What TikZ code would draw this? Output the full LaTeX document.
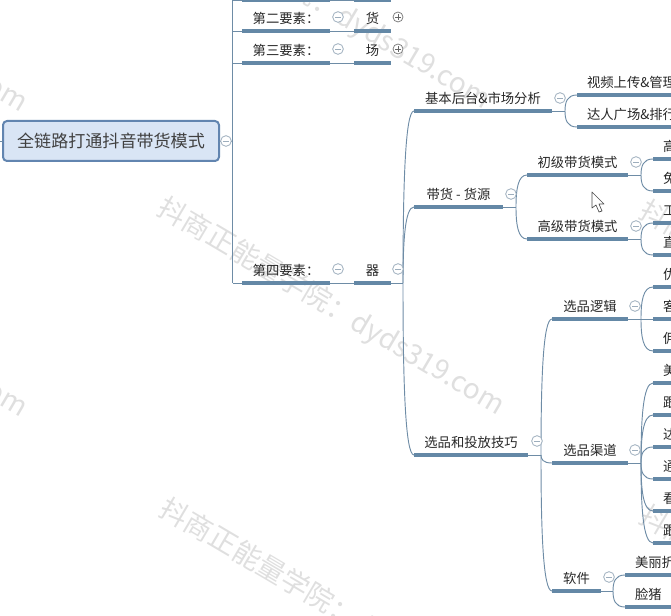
\documentclass[tikz,border=0pt]{standalone}
\usepackage{fontspec}
\setmainfont{Noto Sans CJK SC}
\usetikzlibrary{positioning,calc}
\definecolor{linecol}{HTML}{6E8CA6}
\definecolor{barcol}{HTML}{6488A6}
\definecolor{foldcol}{HTML}{9DAEBD}
\definecolor{maincol}{HTML}{D9E5F5}
\definecolor{mainedge}{HTML}{6285B0}
\definecolor{markcol}{HTML}{DFDFDF}
\tikzset{
  topic/.style={anchor=south west,minimum height=19pt,inner sep=0pt,font=\fontsize{10pt}{11pt}\selectfont,text=black!85},
  leaf/.style={topic,align=left,text width=#1,inner xsep=7.5pt},
  bar/.style={draw=barcol,line width=2.3pt},
  thin/.style={draw=linecol,line width=0.7pt},
  fold/.style={circle,draw=foldcol,line width=0.6pt,minimum size=8pt,inner sep=0pt,fill=white,
    path picture={\draw[foldcol,line width=0.6pt] ([xshift=-2.2pt]path picture bounding box.center) -- ([xshift=2.2pt]path picture bounding box.center);}},
  unfold/.style={circle,draw=black!50,line width=0.6pt,minimum size=7.5pt,inner sep=0pt,fill=white,
    path picture={\draw[black!60,line width=0.6pt] ([xshift=-1.9pt]path picture bounding box.center) -- ([xshift=1.9pt]path picture bounding box.center)
      ([yshift=-1.9pt]path picture bounding box.center) -- ([yshift=1.9pt]path picture bounding box.center);}},
  wmark/.style={font=\fontsize{21pt}{24pt}\selectfont,text=markcol,rotate=-30.6,inner sep=0pt}
}
% curved branch out of a fork
\newcommand{\branch}[2]{\draw[thin] (#1) .. controls ($(#1)!0.55!(#1 |- #2)$) and ($(#1 |- #2)+(1.5pt,0)$) .. (#2);}
\newcommand{\under}[1]{\draw[bar] (#1.south west) -- (#1.south east);}
\begin{document}
\begin{tikzpicture}[x=0.75pt,y=-0.75pt,outer sep=0pt,inner sep=0pt]
  \useasboundingbox (0,0) rectangle (671,616);
  \clip (0,0) rectangle (671,616);
  % watermarks
  \node[wmark] (wm1) at (331,307) {抖商正能量学院：dyds319.com};
  \node[wmark] (wm2) at (317,1) {抖商正能量学院：dyds319.com};
  \node[wmark] (wm3) at (333,608) {抖商正能量学院：dyds319.com};
  \node[wmark] (wm4) at (-146,309) {抖商正能量学院：dyds319.com};
  \node[wmark] (wm5) at (-146,4) {抖商正能量学院：dyds319.com};
  \node[wmark] (wm6) at (813,310) {抖商正能量学院：dyds319.com};
  \node[wmark] (wm7) at (813,615) {抖商正能量学院：dyds319.com};
  % root
  \node[draw=mainedge,fill=maincol,line width=1.5pt,rounded corners=3pt,minimum width=162pt,minimum height=30pt,
    font=\fontsize{12.8pt}{15pt}\selectfont,text=black!75] (root) at (111,141) {全链路打通抖音带货模式};
  \coordinate (rootin) at (0,141);
  \draw[thin] (rootin) -- (root.west);
  \coordinate (trunktop) at (232.5,-2);
  \coordinate (trunkbot) at (232.5,283);
  \draw[thin] (root.east) -- (232.5,141);
  \draw[thin] (trunktop) -- (trunkbot);
  % first column
  \path
  (242,0) node[topic,minimum width=88*0.75pt] (e1) {}
  (354,0) node[topic,minimum width=37*0.75pt] (e1v) {}
  (242,31) node[topic,minimum width=88*0.75pt] (e2) {第二要素：}
  (354,31) node[topic,minimum width=37*0.75pt] (e2v) {货}
  (242,63) node[topic,minimum width=88*0.75pt] (e3) {第三要素：}
  (354,63) node[topic,minimum width=37*0.75pt] (e3v) {场}
  (242,283) node[topic,minimum width=88*0.75pt] (e4) {第四要素：}
  (354,283) node[topic,minimum width=37*0.75pt] (e4v) {器};
  \under{e1} \under{e1v} \under{e2} \under{e2v} \under{e3} \under{e3v} \under{e4} \under{e4v}
  \draw[thin] (232.5,0) -- (e1.south west);
  \draw[thin] (232.5,31) -- (e2.south west);
  \draw[thin] (232.5,63) -- (e3.south west);
  \draw[thin] (trunkbot) -- (e4.south west);
  \draw[thin] (e1.south east) -- (e1v.south west);
  \draw[thin] (e2.south east) -- (e2v.south west);
  \draw[thin] (e3.south east) -- (e3v.south west);
  \draw[thin] (e4.south east) -- (e4v.south west);
  % second column
  \path
  (414,111) node[topic,minimum width=138*0.75pt] (base) {基本后台\&市场分析}
  (414,207) node[topic,minimum width=89*0.75pt] (source) {带货 - 货源}
  (414,455) node[topic,minimum width=114*0.75pt] (pick) {选品和投放技巧}
  (527,175) node[topic,minimum width=101*0.75pt] (low) {初级带货模式}
  (527,239) node[topic,minimum width=101*0.75pt] (high) {高级带货模式}
  (552,319) node[topic,minimum width=76*0.75pt] (logic) {选品逻辑}
  (552,463) node[topic,minimum width=76*0.75pt] (chan) {选品渠道}
  (552,591) node[topic,minimum width=49*0.75pt] (soft) {软件};
  \under{base} \under{source} \under{pick} \under{low} \under{high} \under{logic} \under{chan} \under{soft}
  % leaves, cut off at the right edge
  \path
  (577,95) node[leaf=75pt] (l1) {视频上传\&管理}
  (577,127) node[leaf=75pt] (l2) {达人广场\&排行}
  (653,159) node[leaf=15pt] (l3) {高}
  (653,191) node[leaf=15pt] (l4) {免}
  (653,223) node[leaf=15pt] (l5) {工}
  (653,255) node[leaf=15pt] (l6) {直}
  (653,287) node[leaf=15pt] (l7) {优}
  (653,319) node[leaf=15pt] (l8) {客}
  (653,351) node[leaf=15pt] (l9) {佣}
  (653,383) node[leaf=15pt] (l10) {美}
  (653,415) node[leaf=15pt] (l11) {跟}
  (653,447) node[leaf=15pt] (l12) {达}
  (653,479) node[leaf=15pt] (l13) {通}
  (653,511) node[leaf=15pt] (l14) {看}
  (653,543) node[leaf=15pt] (l15) {跟}
  (625,575) node[leaf=31pt] (l16) {美丽折}
  (625,607) node[leaf=31pt] (l17) {脸猪};
  \under{l1} \under{l2} \under{l3} \under{l4} \under{l5} \under{l6} \under{l7} \under{l8} \under{l9}
  \under{l10} \under{l11} \under{l12} \under{l13} \under{l14} \under{l15} \under{l16} \under{l17}
  % forks
  \coordinate (f0) at (403,283);
  \coordinate (f1) at (565,111);
  \coordinate (f2) at (516,207);
  \coordinate (f3) at (541,455);
  \coordinate (f4) at (641,175);
  \coordinate (f5) at (641,239);
  \coordinate (f6) at (641,319);
  \coordinate (f7) at (641,463);
  \coordinate (f8) at (613,591);
  \draw[thin] (e4v.south east) -- (f0);
  \draw[thin] (base.south east) -- (f1);
  \draw[thin] (source.south east) -- (f2);
  \draw[thin] (pick.south east) -- (f3);
  \draw[thin] (low.south east) -- (f4);
  \draw[thin] (high.south east) -- (f5);
  \draw[thin] (logic.south east) -- (f6);
  \draw[thin] (chan.south east) -- (f7);
  \draw[thin] (soft.south east) -- (f8);
  \branch{f0}{base.south west} \branch{f0}{source.south west} \branch{f0}{pick.south west}
  \branch{f1}{l1.south west} \branch{f1}{l2.south west}
  \branch{f2}{low.south west} \branch{f2}{high.south west}
  \branch{f3}{logic.south west} \branch{f3}{chan.south west} \branch{f3}{soft.south west}
  \branch{f4}{l3.south west} \branch{f4}{l4.south west}
  \branch{f5}{l5.south west} \branch{f5}{l6.south west}
  \branch{f6}{l7.south west} \branch{f6}{l9.south west}
  \draw[thin] (f6) -- (l8.south west);
  \branch{f7}{l10.south west} \branch{f7}{l11.south west} \branch{f7}{l12.south west}
  \branch{f7}{l13.south west} \branch{f7}{l14.south west} \branch{f7}{l15.south west}
  \branch{f8}{l16.south west} \branch{f8}{l17.south west}
  % fold marks
  \path
  (226,141) node[fold] (c0) {}
  (338,17) node[fold] (c1) {}
  (398,17) node[unfold] (c2) {}
  (338,49) node[fold] (c3) {}
  (398,49) node[unfold] (c4) {}
  (338,269) node[fold] (c5) {}
  (398,269) node[fold] (c6) {}
  (560,98) node[fold] (c7) {}
  (511,194) node[fold] (c8) {}
  (537,441) node[fold] (c9) {}
  (636,162) node[fold] (c10) {}
  (636,226) node[fold] (c11) {}
  (635,306) node[fold] (c12) {}
  (635,450) node[fold] (c13) {}
  (609,577) node[fold] (c14) {};
  % pointer
  \draw[black!70,fill=white,line width=0.5pt,line join=round] (592,192) -- (592,208) -- (596,205) -- (599,212) -- (602,211) -- (599,204) -- (604,204) -- cycle;
\end{tikzpicture}
\end{document}
